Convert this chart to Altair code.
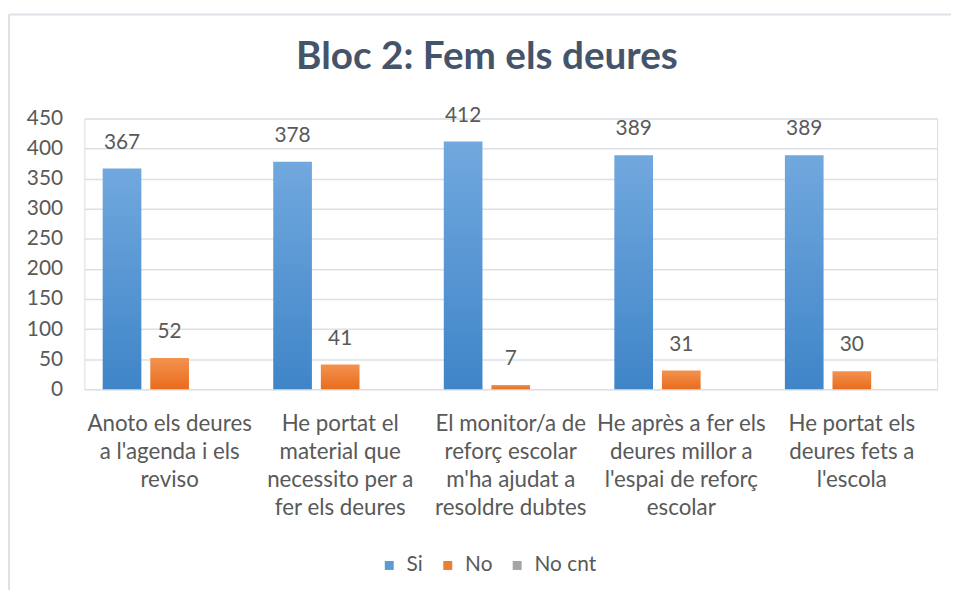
import altair as alt
import pandas as pd

title_text = "Bloc 2: Fem els deures"
categories = [
    "Anoto els deures|a l'agenda i els|reviso",
    "He portat el|material que|necessito per a|fer els deures",
    "El monitor/a de|reforç escolar|m'ha ajudat a|resoldre dubtes",
    "He après a fer els|deures millor a|l'espai de reforç|escolar",
    "He portat els|deures fets a|l'escola",
]
series = ["Si", "No", "No cnt"]
si_values = [367, 378, 412, 389, 389]
no_values = [52, 41, 7, 31, 30]
nocnt_values = [0, 0, 0, 0, 0]

rows = []
for i, c in enumerate(categories):
    rows.append({"cat": c, "serie": "Si", "value": si_values[i]})
    rows.append({"cat": c, "serie": "No", "value": no_values[i]})
    rows.append({"cat": c, "serie": "No cnt", "value": nocnt_values[i]})
df = pd.DataFrame(rows)

FONT = "Lato"
TXT = "#595959"


def grad(top, bottom):
    return alt.Gradient(
        gradient="linear",
        stops=[alt.GradientStop(color=top, offset=0), alt.GradientStop(color=bottom, offset=1)],
        x1=0, x2=0, y1=0, y2=1,
    )


x_enc = alt.X(
    "cat:N",
    sort=categories,
    scale=alt.Scale(paddingInner=0, paddingOuter=0),
    axis=alt.Axis(
        title=None,
        labelExpr="split(datum.label, '|')",
        labelAngle=0,
        labelFont=FONT,
        labelFontSize=22.5,
        labelColor=TXT,
        labelLineHeight=28,
        labelPadding=24,
        labelBaseline="top",
        domain=False,
        ticks=False,
        tickSize=0,
        grid=False,
    ),
)
xoff_enc = alt.XOffset(
    "serie:N",
    scale=alt.Scale(domain=series, paddingInner=0.1875, paddingOuter=0.385),
)
y_enc = alt.Y(
    "value:Q",
    scale=alt.Scale(domain=[0, 450], nice=False),
    axis=alt.Axis(
        title=None,
        values=list(range(0, 451, 50)),
        labelFont=FONT,
        labelFontSize=21,
        labelColor=TXT,
        labelPadding=22,
        domain=False,
        ticks=False,
        tickSize=0,
        grid=True,
        gridColor="#DCE0E6",
        gridWidth=1.5,
    ),
)

base = alt.Chart(df)
one = alt.Data(values=[{}])

frame_top = alt.Chart(one).mark_rule(color="#DDE1E8", strokeWidth=2).encode(
    x=alt.value(-76), x2=alt.value(900), y=alt.value(-105)
)
frame_left = alt.Chart(one).mark_rule(color="#DDE1E8", strokeWidth=2).encode(
    x=alt.value(-76), y=alt.value(-105), y2=alt.value(520)
)

title = alt.Chart(one).mark_text(
    text=title_text, font=FONT, fontSize=39, fontWeight="bold", color="#44546A",
    align="center", baseline="middle",
).encode(x=alt.value(406), y=alt.value(-62))

bars_si = base.transform_filter(alt.datum.serie == "Si").mark_bar(
    color=grad("#71A8DE", "#3F85C8")
).encode(x=x_enc, xOffset=xoff_enc, y=y_enc)

bars_no = base.transform_filter(alt.datum.serie == "No").mark_bar(
    color=grad("#F3924F", "#E96C1C")
).encode(x=x_enc, xOffset=xoff_enc, y=y_enc)

bars_nc = base.transform_filter(alt.datum.serie == "No cnt").mark_bar(
    color=grad("#B5B5B5", "#959595")
).encode(x=x_enc, xOffset=xoff_enc, y=y_enc)

labels = base.transform_filter(alt.datum.serie != "No cnt").mark_text(
    dy=-26, font=FONT, fontSize=21, color=TXT
).encode(x=x_enc, xOffset=xoff_enc, y=y_enc, text="value:Q")

legend_layer = base.mark_square(opacity=0, filled=True).encode(
    color=alt.Color(
        "serie:N",
        scale=alt.Scale(domain=series, range=["#5B9BD5", "#ED7D31", "#A5A5A5"]),
        legend=alt.Legend(
            title=None,
            orient="none",
            direction="horizontal",
            legendX=297,
            legendY=440,
            symbolType="square",
            symbolSize=81,
            symbolOpacity=1,
            labelFont=FONT,
            labelFontSize=21,
            labelColor=TXT,
            labelOffset=7,
            columnPadding=14,
        ),
    )
)

chart = (
    alt.layer(frame_top, frame_left, title, bars_si, bars_no, bars_nc, labels, legend_layer)
    .properties(
        width=860,
        height=273,
        autosize=alt.AutoSizeParams(type="none"),
        padding={"left": 77, "top": 109, "right": 14, "bottom": 200},
    )
    .configure_view(stroke=None)
    .configure(background="white")
)

chart.save("out.html", embed_options={"renderer": "svg", "actions": False})
